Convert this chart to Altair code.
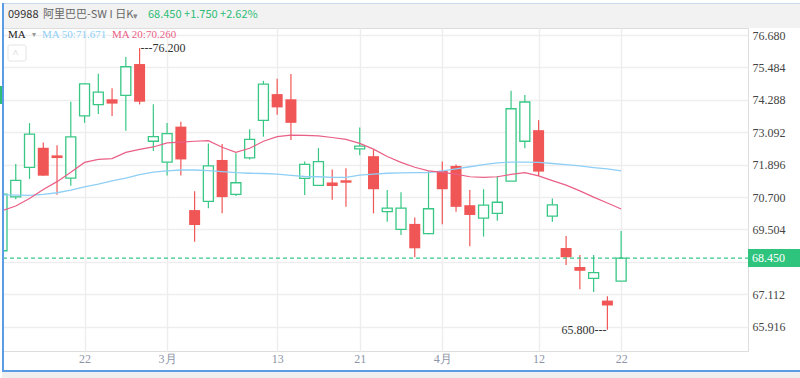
import altair as alt
import pandas as pd

# ---------------- data ----------------
idx = list(range(46))
open_ = [68.72, 70.71, 71.80, 72.52, 72.24, 71.40, 73.70, 74.11, 74.31, 74.45,
         75.61, 72.76, 71.99, 73.30, 70.22, 70.54, 72.07, 70.80, 72.15, 73.53,
         74.50, 74.31, 71.39, 71.13, 71.24, 71.32, 72.48, 72.21, 70.16, 69.51,
         69.71, 69.35, 71.66, 71.85, 70.40, 69.92, 70.10, 71.29, 72.76, 73.17,
         70.00, 68.82, 68.12, 67.70, 66.88, 67.60]
high = [70.85, 71.92, 73.43, 72.71, 72.61, 74.22, 74.90, 75.25, 74.72, 75.87,
        76.20, 74.13, 73.43, 73.48, 70.92, 72.68, 72.66, 72.32, 73.20, 74.99,
        75.07, 75.24, 72.01, 72.51, 71.72, 71.76, 73.27, 72.44, 70.96, 70.88,
        69.95, 71.65, 72.01, 71.90, 70.96, 70.99, 71.48, 74.62, 74.47, 73.54,
        70.65, 69.26, 68.56, 68.56, 67.04, 69.45]
low = [68.70, 70.62, 71.37, 71.49, 70.79, 71.12, 73.44, 73.77, 73.69, 73.15,
       74.12, 72.40, 71.50, 71.50, 69.05, 70.29, 70.10, 70.74, 72.09, 72.93,
       73.74, 72.81, 70.78, 71.13, 70.60, 70.34, 72.24, 70.10, 69.79, 69.30,
       68.48, 69.33, 69.70, 70.16, 68.89, 69.24, 69.83, 71.29, 72.50, 71.48,
       69.79, 68.19, 67.30, 67.20, 65.80, 67.60]
close = [70.81, 71.32, 73.02, 71.49, 72.14, 72.92, 74.88, 74.57, 74.15, 75.51,
         74.22, 72.93, 73.04, 72.09, 69.67, 71.85, 70.70, 71.23, 72.83, 74.87,
         74.01, 73.44, 71.91, 72.01, 71.11, 71.23, 72.58, 70.99, 70.29, 70.29,
         68.81, 70.27, 70.99, 70.34, 70.04, 70.40, 70.51, 73.96, 74.21, 71.64,
         70.41, 68.48, 67.98, 67.91, 66.70, 68.45]
ma20 = [70.20, 70.37, 70.65, 70.98, 71.27, 71.62, 71.98, 72.09, 72.12, 72.35,
        72.46, 72.55, 72.70, 72.73, 72.76, 72.78, 72.54, 72.35, 72.50, 72.76,
        72.93, 72.99, 72.98, 72.96, 72.90, 72.83, 72.68, 72.47, 72.20, 71.98,
        71.80, 71.67, 71.61, 71.55, 71.45, 71.43, 71.45, 71.54, 71.60, 71.48,
        71.31, 71.14, 70.93, 70.70, 70.48, 70.26]
ma50 = [70.78, 70.77, 70.76, 70.80, 70.86, 70.96, 71.08, 71.18, 71.30, 71.40,
        71.53, 71.62, 71.67, 71.70, 71.70, 71.68, 71.64, 71.60, 71.58, 71.57,
        71.55, 71.50, 71.46, 71.45, 71.43, 71.43, 71.51, 71.55, 71.58, 71.59,
        71.60, 71.60, 71.67, 71.74, 71.82, 71.90, 71.96, 71.99, 71.99, 71.98,
        71.94, 71.90, 71.85, 71.79, 71.74, 71.67]
tick_idx = [6, 12, 20, 26, 32, 39, 45]
tick_labels = ["22", "3月", "13", "21", "4月", "12", "22"]
y_ticks = [65.916, 67.112, 68.308, 69.504, 70.700, 71.896, 73.092, 74.288, 75.484, 76.680]
last_price = 68.450
title_code = "09988"
title_name = "阿里巴巴-SW I 日K"
title_quote = "68.450 +1.750 +2.62%"
ma50_label = "MA 50:71.671"
ma20_label = "MA 20:70.260"

UP = "#38c785"
DOWN = "#f15656"
MA20_C = "#ea5f86"
MA50_C = "#8fcff5"
GRID = "#eeeeee"
SERIF = "Liberation Serif"
CJK = "Noto Sans CJK SC"

W, H = 745, 323

df = pd.DataFrame({"i": idx, "open": open_, "high": high, "low": low,
                   "close": close, "ma20": ma20, "ma50": ma50})

x_label_expr = " : ".join(
    f"datum.value == {t} ? '{l}'" for t, l in zip(tick_idx, tick_labels)) + " : ''"

xs = alt.Scale(domain=[0.073, 54.22], nice=False, zero=False, padding=0)
ys = alt.Scale(domain=[65.02, 76.94], nice=False, zero=False, padding=0)

X = alt.X("i:Q", scale=xs, axis=alt.Axis(
    values=tick_idx, tickCount=20, labelExpr=x_label_expr, grid=True,
    gridColor=GRID, gridWidth=1.5, ticks=False, domain=False,
    labelColor="#8d95a8", labelFont=SERIF, labelFontSize=12, labelPadding=2,
    title=None, labelFlush=False, labelOverlap=False))

base = alt.Chart(df)

wick_up = base.mark_rule(color=UP, strokeWidth=1.2, clip=True).encode(
    x=X,
    y=alt.Y("low:Q", scale=ys, axis=alt.Axis(
        orient="right", values=y_ticks, tickCount=20,
        labelExpr="abs(datum.value - 68.308) < 0.01 ? '' : format(datum.value, '.3f')",
        grid=True, gridColor=GRID, gridWidth=1.5, ticks=False, domain=False,
        labelColor="#444444", labelFont=SERIF, labelFontSize=12, labelPadding=4,
        labelOverlap=False, labelFlush=False, labelBound=False,
        title=None)),
    y2="high:Q",
).transform_filter("datum.close >= datum.open")

wick_dn = base.mark_rule(color=DOWN, strokeWidth=1.2, clip=True).encode(
    x="i:Q", y="low:Q", y2="high:Q"
).transform_filter("datum.close < datum.open")

body_up = base.mark_bar(size=10, fill="white", stroke=UP, strokeWidth=1.3,
                        clip=True).encode(
    x="i:Q", y="open:Q", y2="close:Q"
).transform_filter("datum.close >= datum.open")

body_dn = base.mark_bar(size=11, color=DOWN, clip=True).encode(
    x="i:Q", y="open:Q", y2="close:Q"
).transform_filter("datum.close < datum.open")

line20 = base.mark_line(color=MA20_C, strokeWidth=1.2, clip=True).encode(
    x="i:Q", y="ma20:Q")
line50 = base.mark_line(color=MA50_C, strokeWidth=1.3, clip=True).encode(
    x="i:Q", y="ma50:Q")

# high / low annotations
hi_i = high.index(max(high))
lo_i = low.index(min(low))
ann_hi = alt.Chart(pd.DataFrame({"i": [hi_i], "v": [high[hi_i]],
                                 "t": ["---" + format(high[hi_i], ".3f")]})).mark_text(
    align="left", baseline="middle", dx=1, font=SERIF, fontSize=12, color="#333333"
).encode(x="i:Q", y="v:Q", text="t:N")
ann_lo = alt.Chart(pd.DataFrame({"i": [lo_i], "v": [low[lo_i]],
                                 "t": [format(low[lo_i], ".3f") + "---"]})).mark_text(
    align="right", baseline="middle", dx=-1, font=SERIF, fontSize=12, color="#333333"
).encode(x="i:Q", y="v:Q", text="t:N")

# last price line and label
lp = alt.Chart(pd.DataFrame({"v": [last_price], "t": [format(last_price, ".3f")]}))
lp_rule = lp.mark_rule(color=UP, strokeDash=[4, 3], strokeWidth=1.2).encode(
    y="v:Q", x=alt.value(0), x2=alt.value(W))
lp_box = lp.mark_rect(color="#2fc47e", yOffset=-9, y2Offset=9).encode(
    y="v:Q", y2="v:Q", x=alt.value(W), x2=alt.value(W + 52))
lp_text = lp.mark_text(align="left", baseline="middle", font=SERIF, fontSize=12,
                       color="white").encode(
    y="v:Q", x=alt.value(W + 4), text="t:N")

one = alt.Data(values=[{}])

def deco_rect(x1, x2, y1, y2, **kw):
    return alt.Chart(one).mark_rect(**kw).encode(
        x=alt.value(x1), x2=alt.value(x2), y=alt.value(y1), y2=alt.value(y2))

def deco_text(x, y, txt, **kw):
    return alt.Chart(one).mark_text(align="left", baseline="middle", **kw).encode(
        x=alt.value(x), y=alt.value(y), text=alt.value(txt))

header_bg = deco_rect(0, 800, -24, 0, color="#f2f2f2")
header_top = deco_rect(0, 800, -25, -24, color="#c9d8ea")
left_line = deco_rect(-1, 1, -25, 344, color="#5a9ce6")
bottom_line = deco_rect(-1, 800, 342, 344, color="#5a9ce6")
bottom_grey = deco_rect(-1, 800, 344, 352, color="#efefef")
left_marker = deco_rect(-3, -1, 58, 76, color="#2dbd76")
btn = deco_rect(5, 23, 17, 33, fill="white", stroke="#e4e4e4", strokeWidth=1,
                cornerRadius=2)
btn_t = deco_text(10, 26, "^", font=SERIF, fontSize=11, color="#c8c8c8")

t_code = deco_text(5, -13, title_code, font=CJK, fontSize=11, color="#333333")
t_name = deco_text(40, -13, title_name, font=CJK, fontSize=11, color="#666666")
t_arrow = deco_text(130, -12, "▾", font=CJK, fontSize=9, color="#888888")
t_quote = deco_text(145, -13, title_quote, font=CJK, fontSize=11, color="#2dbd76")

l_ma = deco_text(5, 7, "MA", font=SERIF, fontSize=11, color="#222222")
l_arrow = deco_text(29, 7, "▾", font=CJK, fontSize=8, color="#999999")
l_50 = deco_text(39, 7, ma50_label, font=SERIF, fontSize=11, color=MA50_C)
l_20 = deco_text(109, 7, ma20_label, font=SERIF, fontSize=11, color=MA20_C)

chart = alt.layer(
    header_bg, header_top, bottom_grey,
    wick_up, wick_dn, body_up, body_dn, line50, line20,
    lp_rule, lp_box, lp_text, ann_hi, ann_lo,
    left_line, bottom_line, left_marker, btn, btn_t,
    t_code, t_name, t_arrow, t_quote, l_ma, l_arrow, l_50, l_20,
).properties(
    width=W, height=H,
    autosize=alt.AutoSizeParams(type="none"),
    padding={"left": 3, "top": 28, "right": 52, "bottom": 27},
).configure_view(stroke=GRID, strokeWidth=1.5).configure(background="white")

chart.save("out.html", embed_options={"renderer": "svg", "actions": False})
